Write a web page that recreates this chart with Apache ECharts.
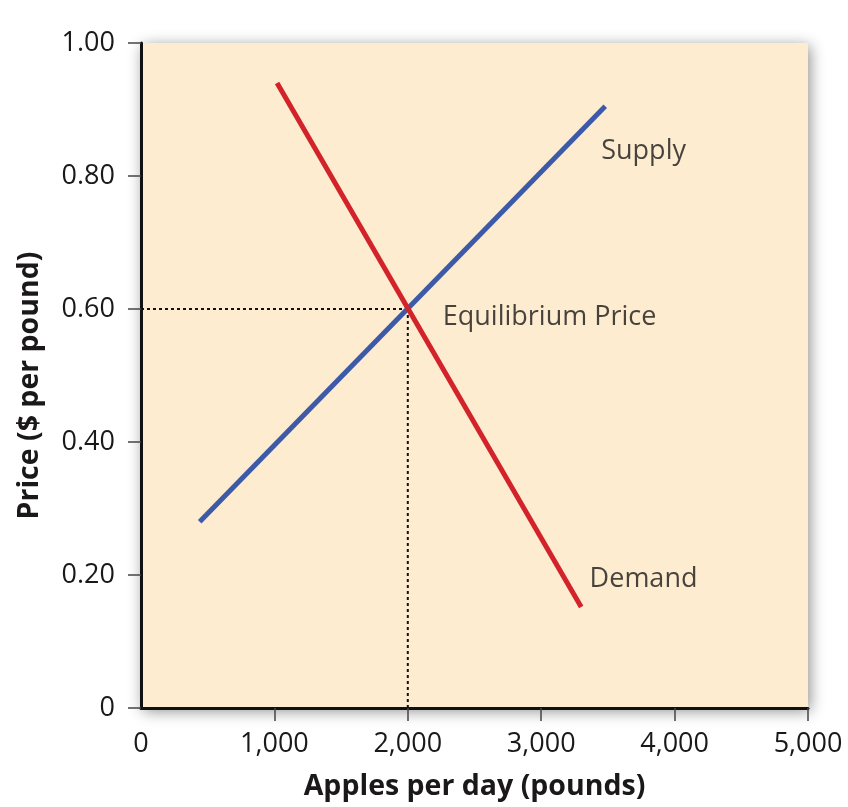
<!DOCTYPE html>
<html><head><meta charset="utf-8">
<script src="https://cdn.jsdelivr.net/npm/echarts@6/dist/echarts.min.js"></script>
<style>html,body{margin:0;padding:0;background:#fff}#c{width:848px;height:807px}</style>
</head><body><div id="c"></div>
<script>
// Data
const supplyX = [440, 3480];
const supplyY = [0.28, 0.905];
const demandX = [1020, 3300];
const demandY = [0.94, 0.152];
const eqQty = 2000;
const eqPrice = 0.60;
const annotations = [
  {name: 'Supply', x: 3450, y: 0.837},
  {name: 'Equilibrium Price', x: 2262, y: 0.588},
  {name: 'Demand', x: 3363, y: 0.193}
];
const xTicks = [0, 1000, 2000, 3000, 4000, 5000];
const yTicks = [0, 0.2, 0.4, 0.6, 0.8, 1.0];

const FONT = 'Open Sans';
const TXT = '#1a1818';
const chart = echarts.init(document.getElementById('c'), null, {renderer: 'canvas'});
const pairs = (xs, ys) => xs.map((x, i) => [x, ys[i]]);
chart.setOption({
  animation: false,
  grid: {left: 141, right: 40, top: 43, bottom: 99, show: true,
    backgroundColor: '#fdeccf', borderWidth: 0,
    shadowBlur: 14, shadowColor: 'rgba(0,0,0,0.45)', shadowOffsetX: 2, shadowOffsetY: 3},
  xAxis: {type: 'value', min: xTicks[0], max: xTicks[xTicks.length - 1], interval: 1000,
    name: 'Apples per day (pounds)', nameLocation: 'middle', nameGap: 64,
    nameTextStyle: {fontFamily: FONT, fontWeight: 'bold', fontSize: 28.5, color: TXT},
    axisLine: {show: true, lineStyle: {color: '#111', width: 3}},
    axisTick: {show: true, length: 13, lineStyle: {color: '#444', width: 1.5},
      customValues: xTicks.slice(1)},
    axisLabel: {fontFamily: FONT, fontSize: 27, color: TXT, margin: 23,
      formatter: v => v.toLocaleString('en-US')},
    splitLine: {show: false}},
  yAxis: {type: 'value', min: yTicks[0], max: yTicks[yTicks.length - 1], interval: 0.2,
    name: 'Price ($ per pound)', nameLocation: 'middle', nameGap: 97,
    nameTextStyle: {fontFamily: FONT, fontWeight: 'bold', fontSize: 28.5, color: TXT,
      padding: [0, 20, 0, 0]},
    axisLine: {show: true, lineStyle: {color: '#111', width: 3}},
    axisTick: {show: true, length: 13, lineStyle: {color: '#444', width: 1.5}},
    axisLabel: {fontFamily: FONT, fontSize: 27, color: TXT, margin: 26,
      formatter: v => v === 0 ? '0' : v.toFixed(2)},
    splitLine: {show: false}},
  series: [
    {type: 'line', name: 'Guide H', data: [[0, eqPrice], [eqQty, eqPrice]], symbol: 'none',
      lineStyle: {color: '#111', width: 2, type: [3, 3]}, z: 1},
    {type: 'line', name: 'Guide V', data: [[eqQty, 0], [eqQty, eqPrice]], symbol: 'none',
      lineStyle: {color: '#111', width: 2, type: [3, 3]}, z: 1},
    {type: 'line', name: 'Supply', data: pairs(supplyX, supplyY), symbol: 'none',
      lineStyle: {color: '#3c5aa8', width: 5, cap: 'butt'}, z: 3},
    {type: 'line', name: 'Demand', data: pairs(demandX, demandY), symbol: 'none',
      lineStyle: {color: '#d2232a', width: 5, cap: 'butt'}, z: 4},
    {type: 'scatter', name: 'Labels', symbolSize: 0,
      data: annotations.map(a => ({name: a.name, value: [a.x, a.y]})),
      label: {show: true, position: 'right', distance: 0, formatter: p => p.name,
        fontFamily: FONT, fontSize: 27, color: TXT}, z: 5}
  ]
});
</script></body></html>
